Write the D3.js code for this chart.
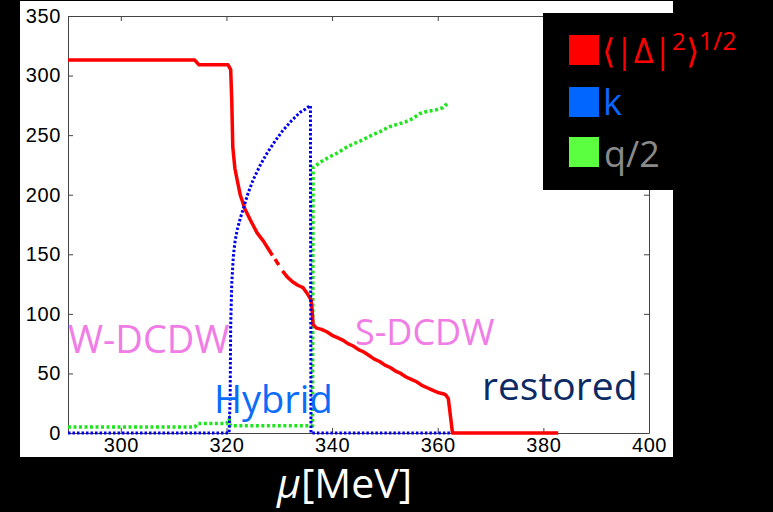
<!DOCTYPE html>
<html>
<head>
<meta charset="utf-8">
<script src="https://cdn.jsdelivr.net/npm/d3@7"></script>
<style>
  body { margin: 0; background: #000; }
  svg { display: block; }
</style>
</head>
<body>
<div id="chart"></div>
<script>
// data (mu in MeV, values in MeV); null = break in the line
var deltaMu  = [290, 314.0, 314.8, 320.3, 320.8, 321.0, 321.2, 321.6, 322.0, 322.6, 323.5, 324.5, 325.8, 327.0, 328.0, 328.7, null, 329.2, 329.9, null, 330.6, 331.5, 332.5, 333.5, 334.5, 335.3, 336.0, 336.2, 336.4, 337.1, 338.0, 339.0, 340.0, 341.0, 342.0, 343.0, 344.0, 345.0, 346.0, 347.0, 348.0, 349.0, 350.0, 351.0, 352.0, 353.0, 354.0, 355.0, 356.0, 357.0, 358.0, 359.0, 360.0, 361.0, 361.5, 362.0, 362.8, 382.8]
var deltaVal = [313, 313, 309, 309, 305, 280, 240, 222, 213, 200, 188, 179, 168, 161, 154, 149, null, 146, 141, null, 136, 131, 127, 124, 122, 117, 112, 104, 91, 88, 87, 85, 82, 80, 78, 75, 73, 70, 68, 65, 62, 60, 57, 55, 52, 50, 47, 45, 43, 40, 38, 36, 34, 33, 32, 29, 0, 0]

var kMu  = [290, 320.5, 320.7, 320.8, 321.0, 321.3, 321.6, 322.0, 322.6, 323.1, 324.0, 325.0, 326.3, 327.7, 329.2, 330.7, 332.3, 333.9, 335.0, 335.9, 336.0, 362.5]
var kVal = [0, 0, 30, 90, 125, 148, 160, 170, 180, 187, 200, 212, 224, 235, 245, 254, 262, 269, 272, 275, 0, 0]

var qMu  = [290, 314.0, 314.6, 320.0, 320.5, 320.8, 336.3, 336.4, 336.8, 338.0, 339.6, 341.0, 342.8, 344.2, 345.8, 347.5, 349.1, 350.8, 352.3, 353.8, 355.3, 356.6, 358.0, 359.5, 361.0, 361.9]
var qVal = [5, 5, 8, 8, 12, 6, 6, 223, 224, 228, 232, 235, 240, 243, 246, 250, 253, 257, 259, 261, 264, 268, 270, 271, 273, 277]

var xTicks = [300, 320, 340, 360, 380, 400]
var yTicks = [0, 50, 100, 150, 200, 250, 300, 350]

var legendNames = ["k", "q/2"]

// frame
var W = 773, H = 512
var svg = d3.select("#chart").append("svg")
	.attr("width", W)
	.attr("height", H)
	.style("background", "#000")

// white picture area
svg.append("rect")
	.attr("x", 20).attr("y", 1)
	.attr("width", 653).attr("height", 456)
	.attr("fill", "#fff")

var x = d3.scaleLinear().domain([290, 400]).range([68, 649])
var y = d3.scaleLinear().domain([0, 350]).range([433, 16])

function pairs(mu, val) {
	return mu.map(function(m, i) { return [m, val[i]] })
}

var line = d3.line()
	.defined(function(d) { return d[0] !== null && d[1] !== null })
	.x(function(d) { return x(d[0]) })
	.y(function(d) { return y(d[1]) })

var axisG = svg.append("g")

// axes with inward ticks
var yAxis = d3.axisLeft(y).tickValues(yTicks).tickSizeInner(-5).tickSizeOuter(0).tickPadding(7)
var xAxis = d3.axisBottom(x).tickValues(xTicks).tickSizeInner(-5).tickSizeOuter(0).tickPadding(5)

axisG.append("g").attr("transform", "translate(68,0)").call(yAxis)
axisG.append("g").attr("transform", "translate(0,433)").call(xAxis)
axisG.append("g").attr("transform", "translate(0,16)")
	.call(d3.axisTop(x).tickValues(xTicks).tickSizeInner(-5).tickSizeOuter(0).tickFormat(""))
axisG.append("g").attr("transform", "translate(649,0)")
	.call(d3.axisRight(y).tickValues(yTicks).tickSizeInner(-5).tickSizeOuter(0).tickFormat(""))

axisG.selectAll("g")
	.attr("font-family", "'Liberation Sans', Arial, sans-serif")
	.attr("font-size", 20)
axisG.selectAll("text").attr("fill", "#000").attr("letter-spacing", 0.6)
axisG.selectAll(".domain, .tick line").attr("stroke", "#444")

// curves
svg.append("path")
	.attr("d", line(pairs(qMu, qVal)))
	.attr("fill", "none")
	.attr("stroke", "#1fe51f")
	.attr("stroke-width", 3.5)
	.attr("stroke-dasharray", "3,2.5")

svg.append("path")
	.attr("d", line(pairs(deltaMu, deltaVal)))
	.attr("fill", "none")
	.attr("stroke", "#ff0000")
	.attr("stroke-width", 3.5)
	.attr("stroke-linejoin", "round")

svg.append("path")
	.attr("d", line(pairs(kMu, kVal)))
	.attr("fill", "none")
	.attr("stroke", "#0000ee")
	.attr("stroke-width", 3)
	.attr("stroke-dasharray", "2.5,2")

// phase labels
var labels = svg.append("g").style("font-family", "'Open Sans', 'Noto Sans', sans-serif")
labels.append("text").attr("x", 68).attr("y", 353).attr("font-size", 38).attr("fill", "#f07de6").text("W-DCDW")
labels.append("text").attr("x", 214).attr("y", 413).attr("font-size", 38).attr("fill", "#0b6cfa").text("Hybrid")
labels.append("text").attr("x", 355).attr("y", 345).attr("font-size", 36).attr("fill", "#f07de6").text("S-DCDW")
labels.append("text").attr("x", 482).attr("y", 400).attr("font-size", 39).attr("fill", "#0c2a64").text("restored")

// legend box
var leg = svg.append("g").style("font-family", "'Open Sans', 'Noto Sans', sans-serif")
leg.append("rect").attr("x", 543).attr("y", 13).attr("width", 230).attr("height", 177).attr("fill", "#000")

var swatch = ["#ff0000", "#0066ff", "#5cff40"]
var rows = [35, 87, 137]
leg.selectAll(".sw").data(swatch).enter().append("rect")
	.attr("x", 569).attr("y", function(d, i) { return rows[i] })
	.attr("width", 30).attr("height", 30)
	.attr("fill", function(d) { return d })

var red = leg.append("text").attr("x", 602).attr("y", 63).attr("fill", "#ff0000").attr("font-size", 34)
red.append("tspan").text("⟨|Δ|")
red.append("tspan").attr("font-size", 24).attr("dy", -13).text("2")
red.append("tspan").attr("dy", 13).text("⟩")
red.append("tspan").attr("font-size", 25).attr("dy", -13).text("1/2")

leg.append("text").attr("x", 603).attr("y", 115).attr("font-size", 36).attr("fill", "#0a66ff").text(legendNames[0])
leg.append("text").attr("x", 604).attr("y", 167).attr("font-size", 36).attr("fill", "#8a8a8a").text(legendNames[1])

// x axis title
var title = svg.append("text")
	.attr("x", 277).attr("y", 498)
	.attr("fill", "#fff")
	.attr("font-size", 41)
	.style("font-family", "'Open Sans', 'Noto Sans', sans-serif")
title.append("tspan").attr("font-style", "italic").text("μ")
title.append("tspan").text("[MeV]")
</script>
</body>
</html>
